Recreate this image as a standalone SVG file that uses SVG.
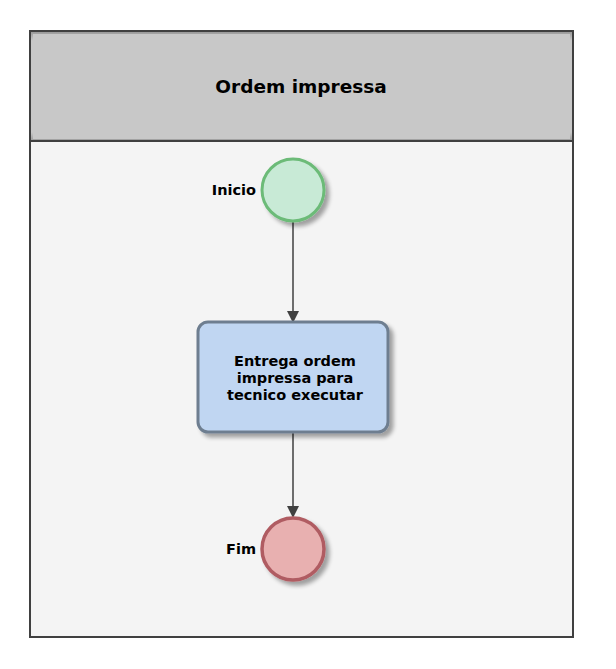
<svg xmlns="http://www.w3.org/2000/svg" width="616" height="669" viewBox="0 0 616 669">
<defs>
<style>
.t{font-family:"DejaVu Sans",Verdana,sans-serif;font-weight:bold;fill:#000}
.lbl{font-size:14.5px}
.conn{stroke:#404040;stroke-width:1.5;fill:none}
</style>
<marker id="ah" markerWidth="12" markerHeight="12" refX="10" refY="6" orient="auto" markerUnits="userSpaceOnUse">
<path d="M0,0 L12,6 L0,12 z" fill="#404040"/>
</marker>
<filter id="sh" x="-20%" y="-20%" width="150%" height="150%">
<feGaussianBlur in="SourceAlpha" stdDeviation="2"/>
<feOffset dx="4" dy="4"/>
<feComponentTransfer><feFuncA type="linear" slope="0.35"/></feComponentTransfer>
<feMerge><feMergeNode/><feMergeNode in="SourceGraphic"/></feMerge>
</filter>
<linearGradient id="hdr" x1="0" y1="0" x2="0" y2="1">
<stop offset="0" stop-color="#9a9a9a"/>
<stop offset="0.08" stop-color="#c8c8c8"/>
<stop offset="0.92" stop-color="#c8c8c8"/>
<stop offset="1" stop-color="#9a9a9a"/>
</linearGradient>
</defs>
<rect width="616" height="669" fill="#ffffff"/>
<g id="pool">
<rect x="30" y="31" width="543" height="606" fill="#f4f4f4" stroke="#404040" stroke-width="2"/>
<rect x="31" y="32" width="541" height="109" fill="url(#hdr)"/>
<rect x="33" y="34" width="537" height="105" fill="#c8c8c8"/>
<line x1="30" y1="141" x2="573" y2="141" stroke="#404040" stroke-width="2"/>
<rect x="30" y="31" width="543" height="606" fill="none" stroke="#404040" stroke-width="2"/>
<text class="t" x="301" y="93" font-size="18.5" text-anchor="middle">Ordem impressa</text>
</g>
<g id="connectors">
<line class="conn" x1="293" y1="222" x2="293" y2="321" marker-end="url(#ah)"/>
<line class="conn" x1="293" y1="433" x2="293" y2="516" marker-end="url(#ah)"/>
</g>
<g id="inicio">
<circle cx="293" cy="190" r="31" fill="#c8ead6" stroke="#6cbb78" stroke-width="3" filter="url(#sh)"/>
<text class="t lbl" x="256" y="195" text-anchor="end">Inicio</text>
</g>
<g id="task">
<rect x="198" y="322" width="190" height="110" rx="10" fill="#c0d6f2" stroke="#6e7e90" stroke-width="3" filter="url(#sh)"/>
<text class="t lbl" text-anchor="middle"><tspan x="295" y="366">Entrega ordem</tspan><tspan x="295" y="383">impressa para</tspan><tspan x="295" y="400">tecnico executar</tspan></text>
</g>
<g id="fim">
<circle cx="293" cy="549" r="31" fill="#e8b0b0" stroke="#b05c62" stroke-width="3.5" filter="url(#sh)"/>
<text class="t lbl" x="256" y="554" text-anchor="end">Fim</text>
</g>
</svg>
